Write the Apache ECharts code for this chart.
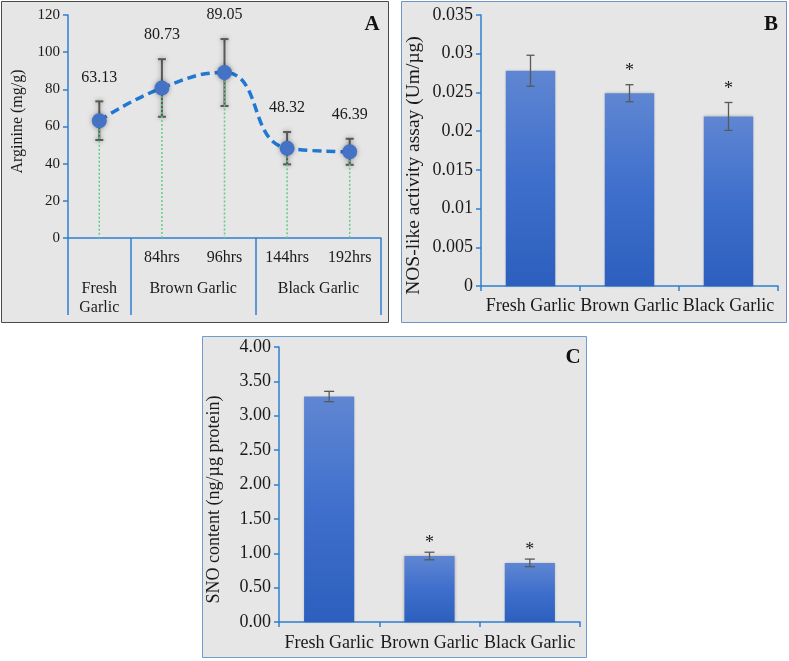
<!DOCTYPE html>
<html><head><meta charset="utf-8">
<script src="https://cdn.jsdelivr.net/npm/echarts@6/dist/echarts.min.js"></script>
<style>html,body{margin:0;padding:0;background:#fff}#c{width:789px;height:661px}</style>
</head><body><div id="c"></div>
<script>
// ---- Panel A data ----
const aHourLabels = ['', '84hrs', '96hrs', '144hrs', '192hrs'];
const aGroupLabels = ['Fresh\nGarlic', 'Brown Garlic', 'Black Garlic'];
const aGroupSpans = [1, 2, 2];
const aValues = [63.13, 80.73, 89.05, 48.32, 46.39];
const aErrors = [10.4, 15.5, 18.0, 8.7, 7.0];
const aTicks = { min: 0, max: 120, step: 20 };
// ---- Panel B data ----
const bCategories = ['Fresh Garlic', 'Brown Garlic', 'Black Garlic'];
const bValues = [0.0278, 0.0249, 0.0219];
const bErrors = [0.0020, 0.0011, 0.0018];
const bMarks = ['', '*', '*'];
const bTicks = { min: 0, max: 0.035, step: 0.005 };
// ---- Panel C data ----
const cCategories = ['Fresh Garlic', 'Brown Garlic', 'Black Garlic'];
const cValues = [3.28, 0.96, 0.86];
const cErrors = [0.075, 0.055, 0.055];
const cMarks = ['', '*', '*'];
const cTicks = { min: 0, max: 4, step: 0.5 };

// derived group boundaries / centers (category units)
const aBounds = [0];
aGroupSpans.forEach(s => aBounds.push(aBounds[aBounds.length - 1] + s));
const aCenters = aGroupSpans.map((s, i) => aBounds[i] + s / 2);

const FONT = "'Liberation Serif','Times New Roman',serif";
const TXT = '#1a1a1a';
const AXIS = '#2f7fd0';
const BG = '#e7e6e6';

function errItem(cap, color, lw, shadow) {
  return function (params, api) {
    const x = api.value(0);
    const lo = api.coord([x, api.value(1)]);
    const hi = api.coord([x, api.value(2)]);
    const st = { stroke: color, lineWidth: lw };
    if (shadow) { st.shadowBlur = 5; st.shadowColor = 'rgba(0,0,0,0.35)'; }
    return { type: 'group', children: [
      { type: 'line', shape: { x1: lo[0], y1: lo[1], x2: hi[0], y2: hi[1] }, style: st },
      { type: 'line', shape: { x1: lo[0] - cap, y1: lo[1], x2: lo[0] + cap, y2: lo[1] }, style: st },
      { type: 'line', shape: { x1: hi[0] - cap, y1: hi[1], x2: hi[0] + cap, y2: hi[1] }, style: st }
    ]};
  };
}
function markItem(marks, gap, size) {
  return function (params, api) {
    const i = api.value(0);
    const p = api.coord([i, api.value(1)]);
    return { type: 'text', style: { text: marks[i], x: p[0], y: p[1] - gap, align: 'center', verticalAlign: 'bottom', font: size + 'px ' + FONT, fill: TXT } };
  };
}
const barGrad = new echarts.graphic.LinearGradient(0, 0, 0, 1, [
  { offset: 0, color: '#5f86d2' }, { offset: 0.5, color: '#3f6fcc' }, { offset: 1, color: '#2c5fbe' }
]);
function valAxis(grid, t, name, gap, fs, nfs, pad, fmt) {
  return {
    type: 'value', gridIndex: grid, min: t.min, max: t.max, interval: t.step,
    axisLine: { show: true, lineStyle: { color: AXIS, width: 1.5 } },
    axisTick: { show: true, length: 5, lineStyle: { color: AXIS, width: 1.5 } },
    splitLine: { show: false },
    axisLabel: { fontFamily: FONT, fontSize: fs, color: TXT, margin: 8, formatter: fmt },
    name: name, nameLocation: 'middle', nameGap: gap,
    nameTextStyle: { fontFamily: FONT, fontSize: nfs, color: TXT, padding: pad }
  };
}
function catAxis(grid, data, fs, margin) {
  return {
    type: 'category', gridIndex: grid, data: data, boundaryGap: true,
    axisLine: { show: true, lineStyle: { color: AXIS, width: 1.5 } },
    axisTick: { show: true, length: 5, lineStyle: { color: AXIS, width: 1.5 } },
    axisLabel: { fontFamily: FONT, fontSize: fs, color: TXT, margin: margin, interval: 0 }
  };
}

const chart = echarts.init(document.getElementById('c'), null, { renderer: 'canvas' });
const xA = catAxis(0, aHourLabels, 16, 12);
xA.axisTick = { show: false };
const option = {
  animation: false,
  backgroundColor: '#ffffff',
  graphic: [
    { type: 'rect', z: -10, shape: { x: 1.5, y: 1.5, width: 387, height: 321 }, style: { fill: BG, stroke: '#4a4a4a', lineWidth: 1 } },
    { type: 'rect', z: -10, shape: { x: 401.5, y: 1.5, width: 385, height: 321 }, style: { fill: BG, stroke: '#6f93c4', lineWidth: 1 } },
    { type: 'rect', z: -10, shape: { x: 202.5, y: 336.5, width: 384, height: 321 }, style: { fill: BG, stroke: '#6f9bd0', lineWidth: 1 } },
    { type: 'text', z: 100, style: { text: 'A', x: 372, y: 25, align: 'center', verticalAlign: 'middle', font: 'bold 21px ' + FONT, fill: '#111' } },
    { type: 'text', z: 100, style: { text: 'B', x: 771, y: 25, align: 'center', verticalAlign: 'middle', font: 'bold 21px ' + FONT, fill: '#111' } },
    { type: 'text', z: 100, style: { text: 'C', x: 573, y: 358, align: 'center', verticalAlign: 'middle', font: 'bold 21px ' + FONT, fill: '#111' } }
  ],
  grid: [
    { left: 68, top: 15, width: 313, height: 223 },
    { left: 481, top: 15, width: 297, height: 271 },
    { left: 279, top: 347, width: 301, height: 275 }
  ],
  xAxis: [
    xA,
    {
      type: 'value', gridIndex: 0, min: 0, max: aBounds[aBounds.length - 1], position: 'bottom',
      axisLine: { show: false }, splitLine: { show: false },
      axisTick: { show: true, customValues: aBounds, length: 77, lineStyle: { color: AXIS, width: 1.5 } },
      axisLabel: {
        customValues: aCenters, margin: 41, fontFamily: FONT, fontSize: 16, color: TXT, lineHeight: 19,
        formatter: v => { const i = aCenters.findIndex(c => Math.abs(c - v) < 1e-6); return i >= 0 ? aGroupLabels[i] : ''; }
      }
    },
    catAxis(1, bCategories, 18, 11),
    catAxis(2, cCategories, 18, 12)
  ],
  yAxis: [
    valAxis(0, aTicks, 'Arginine (mg/g)', 42, 15, 16, [0, 0, 0, 10]),
    valAxis(1, bTicks, 'NOS-like activity assay (Um/µg)', 57, 18, 19.5, [0, 30, 0, 0]),
    valAxis(2, cTicks, 'SNO content (ng/µg protein)', 56, 18, 18, [0, 30, 0, 0], v => v.toFixed(2))
  ],
  series: [
    // Panel A
    { type: 'custom', xAxisIndex: 0, yAxisIndex: 0, z: 2, renderItem: errItem(4, '#595959', 2, true),
      data: aValues.map((v, i) => [i, v - aErrors[i], v + aErrors[i]]) },
    { type: 'custom', xAxisIndex: 0, yAxisIndex: 0, z: 3,
      renderItem: (params, api) => {
        const p = api.coord([api.value(0), api.value(1)]);
        const b = api.coord([api.value(0), 0]);
        return { type: 'line', shape: { x1: p[0], y1: p[1], x2: b[0], y2: b[1] }, style: { stroke: '#5fce86', lineWidth: 1.5, lineDash: [2, 2] } };
      },
      data: aValues.map((v, i) => [i, v]) },
    { type: 'line', xAxisIndex: 0, yAxisIndex: 0, z: 4, data: aValues, smooth: 0.5,
      symbol: 'circle', symbolSize: 15,
      lineStyle: { color: '#1f78d1', width: 3.5, type: [9, 5] },
      itemStyle: { color: '#4472c4', shadowBlur: 5, shadowColor: 'rgba(0,0,0,0.35)' } },
    { type: 'custom', xAxisIndex: 0, yAxisIndex: 0, z: 5,
      renderItem: (params, api) => {
        const i = api.value(0);
        const p = api.coord([i, api.value(1) + aErrors[i]]);
        return { type: 'text', style: { text: api.value(1).toFixed(2), x: p[0], y: p[1] - 24, align: 'center', verticalAlign: 'middle', font: '16px ' + FONT, fill: TXT } };
      },
      data: aValues.map((v, i) => [i, v]) },
    // Panel B
    { type: 'bar', xAxisIndex: 2, yAxisIndex: 1, data: bValues, barWidth: '50%',
      itemStyle: { color: barGrad, shadowBlur: 3, shadowColor: 'rgba(0,0,0,0.25)' } },
    { type: 'custom', xAxisIndex: 2, yAxisIndex: 1, z: 3, renderItem: errItem(4, '#595959', 1.3, false),
      data: bValues.map((v, i) => [i, v - bErrors[i], v + bErrors[i]]) },
    { type: 'custom', xAxisIndex: 2, yAxisIndex: 1, z: 3, renderItem: markItem(bMarks, 4, 18),
      data: bValues.map((v, i) => [i, v + bErrors[i]]) },
    // Panel C
    { type: 'bar', xAxisIndex: 3, yAxisIndex: 2, data: cValues, barWidth: '50%',
      itemStyle: { color: barGrad, shadowBlur: 3, shadowColor: 'rgba(0,0,0,0.25)' } },
    { type: 'custom', xAxisIndex: 3, yAxisIndex: 2, z: 3, renderItem: errItem(5, '#595959', 1.3, false),
      data: cValues.map((v, i) => [i, v - cErrors[i], v + cErrors[i]]) },
    { type: 'custom', xAxisIndex: 3, yAxisIndex: 2, z: 3, renderItem: markItem(cMarks, 0, 18),
      data: cValues.map((v, i) => [i, v + cErrors[i]]) }
  ]
};
chart.setOption(option);
</script>
</body></html>
